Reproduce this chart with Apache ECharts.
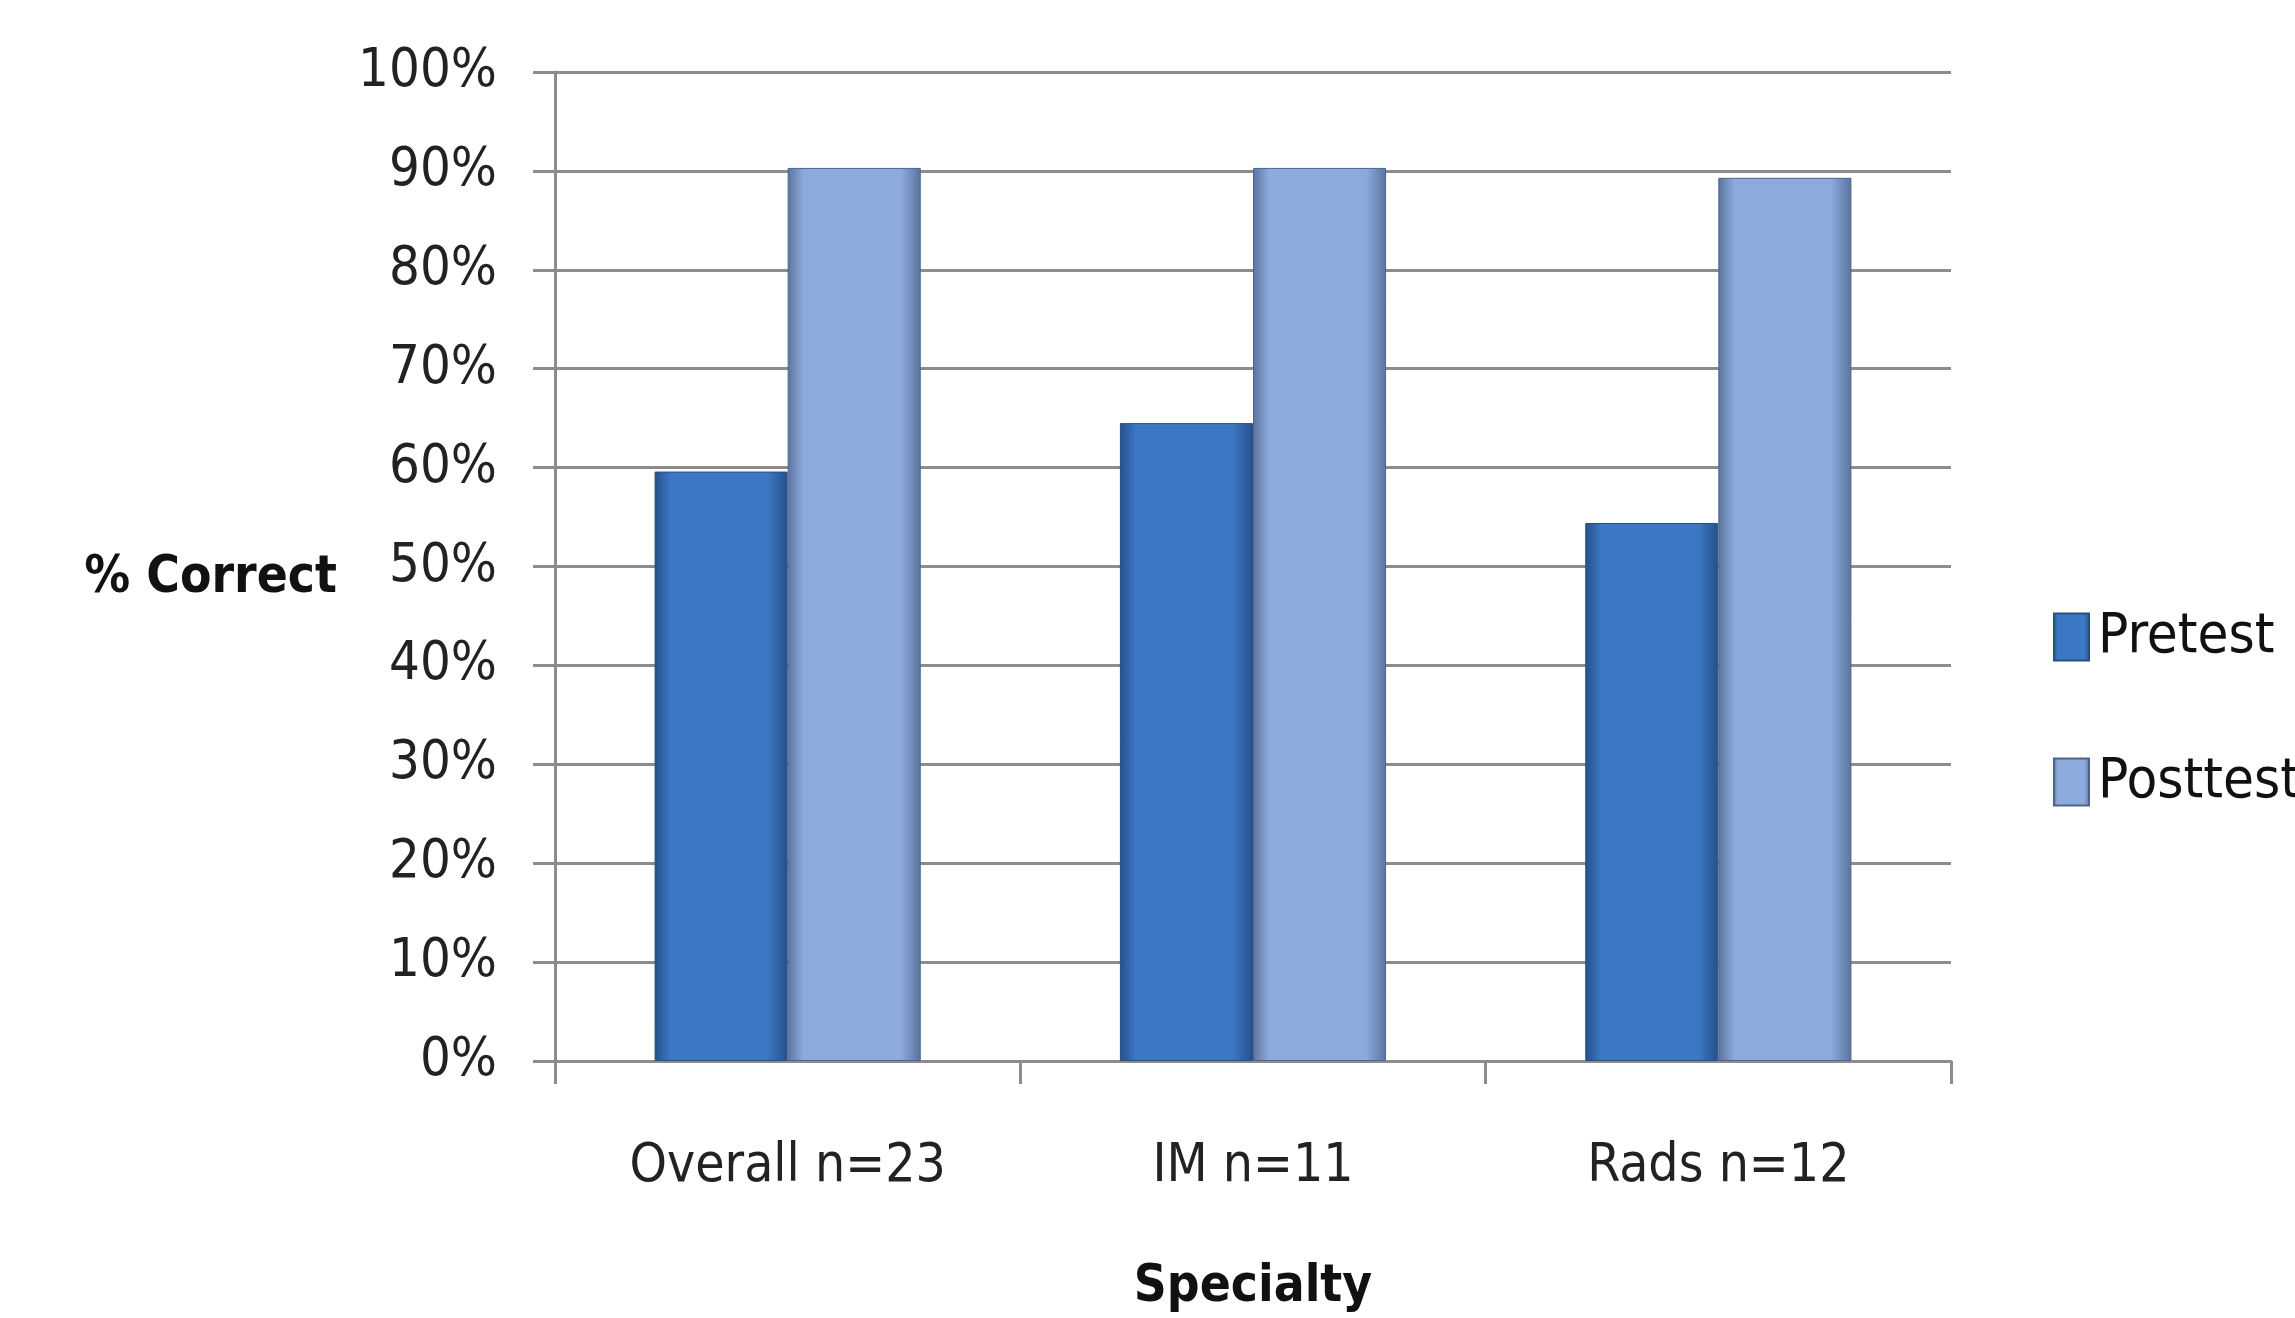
<!DOCTYPE html>
<html><head><meta charset="utf-8">
<script src="https://cdn.jsdelivr.net/npm/echarts@6/dist/echarts.min.js"></script>
<style>html,body{margin:0;padding:0;background:#fff}#c{width:2295px;height:1318px}</style>
</head><body><div id="c"></div>
<script>
const categories = ['Overall n=23', 'IM n=11', 'Rads n=12'];
const pretest = [59.6, 64.5, 54.4];
const posttest = [90.3, 90.3, 89.3];
const seriesNames = ['Pretest', 'Posttest'];
const FONT = "'DejaVu Sans Condensed', 'Liberation Sans Narrow', sans-serif";

function grad(edge, mid) {
  return new echarts.graphic.LinearGradient(0, 0, 1, 0, [
    {offset: 0, color: edge}, {offset: 0.12, color: mid}, {offset: 0.85, color: mid}, {offset: 1, color: edge}
  ]);
}
const chart = echarts.init(document.getElementById('c'));
chart.setOption({
  backgroundColor: '#fff',
  animation: false,
  grid: {left: 555, right: 344, top: 72, bottom: 248, containLabel: false},
  legend: {
    orient: 'vertical', left: 2048, top: 604, icon: 'rect',
    itemWidth: 35, itemHeight: 47, itemGap: 89,
    textStyle: {fontFamily: FONT, fontSize: 56, color: '#111', padding: [0, 0, 0, 4]},
    data: seriesNames
  },
  xAxis: {
    type: 'category', data: categories,
    name: 'Specialty', nameLocation: 'middle', nameGap: 201,
    nameTextStyle: {fontFamily: FONT, fontSize: 51, fontWeight: 'bold', color: '#111'},
    axisLine: {lineStyle: {color: '#8c8c8c', width: 3}},
    axisTick: {show: true, length: 23, lineStyle: {color: '#8c8c8c', width: 3}},
    axisLabel: {fontFamily: FONT, fontSize: 53, color: '#222', margin: 80, interval: 0}
  },
  yAxis: {
    type: 'value', min: 0, max: 100, interval: 10,
    name: '% Correct', nameLocation: 'middle', nameRotate: 0, nameGap: 218,
    nameTextStyle: {fontFamily: FONT, fontSize: 51, fontWeight: 'bold', color: '#111', align: 'right', verticalAlign: 'top', lineHeight: 24},
    axisLine: {show: true, lineStyle: {color: '#8c8c8c', width: 3}},
    axisTick: {show: true, length: 22, lineStyle: {color: '#8c8c8c', width: 3}},
    splitLine: {lineStyle: {color: '#8c8c8c', width: 3}},
    axisLabel: {fontFamily: FONT, fontSize: 54, color: '#222', margin: 58, formatter: '{value}%'}
  },
  series: [
    {name: seriesNames[0], type: 'bar', data: pretest, barGap: '0%', barCategoryGap: '42.8%',
     itemStyle: {color: grad('#25508a', '#3b78c4'), borderColor: '#2a4f80', borderWidth: 1}},
    {name: seriesNames[1], type: 'bar', data: posttest,
     itemStyle: {color: grad('#5a739f', '#8caadb'), borderColor: '#4f648a', borderWidth: 1}}
  ]
});
</script></body></html>
